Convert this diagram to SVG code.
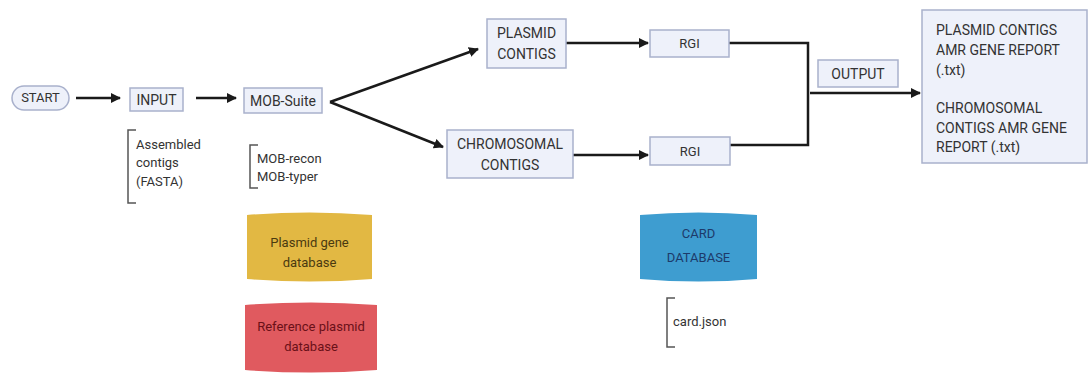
<svg xmlns="http://www.w3.org/2000/svg" width="1089" height="374" viewBox="0 0 1089 374">
<style>
.box{fill:#EEF1FA;stroke:#A9B1CC;stroke-width:1.5}
.t{font-family:Roboto,"Liberation Sans",sans-serif;font-size:13px;fill:#333}
.u{font-size:14px}
.c{text-anchor:middle}
.con{fill:none;stroke:#1a1a1a;stroke-width:2.5}
.br{fill:none;stroke:#555;stroke-width:1.5}
</style>
<defs>
<marker id="ah" viewBox="0 0 10 10" refX="9" refY="5" markerWidth="4" markerHeight="4" orient="auto" markerUnits="strokeWidth">
<path d="M0,0 L10,5 L0,10 z" fill="#1a1a1a"/>
</marker>
</defs>
<rect width="1089" height="374" fill="#fff"/>
<g id="connectors">
<line class="con" x1="76" y1="98" x2="120" y2="98" marker-end="url(#ah)"/>
<line class="con" x1="196" y1="98" x2="236" y2="98" marker-end="url(#ah)"/>
<line class="con" x1="330" y1="102" x2="478" y2="49" marker-end="url(#ah)"/>
<line class="con" x1="330" y1="102" x2="443" y2="147" marker-end="url(#ah)"/>
<line class="con" x1="566" y1="43" x2="648" y2="43" marker-end="url(#ah)"/>
<line class="con" x1="573" y1="155" x2="648" y2="155" marker-end="url(#ah)"/>
<polyline class="con" points="729,43 808,43 808,145 729,145"/>
<line class="con" x1="810" y1="93" x2="920" y2="93" marker-end="url(#ah)"/>
</g>
<g id="start">
<rect x="12" y="86" width="57" height="24" rx="12" class="box"/>
<text x="40.5" y="102" class="t c" font-size="12">START</text>
</g>
<g id="input">
<rect x="130" y="88" width="53" height="23" class="box"/>
<text x="156.5" y="104.5" class="t u c">INPUT</text>
</g>
<g id="input-note">
<path class="br" d="M136,130 H128 V203 H136"/>
<text x="136" y="149" class="t">Assembled</text>
<text x="136" y="167" class="t">contigs</text>
<text x="136" y="186" class="t">(FASTA)</text>
</g>
<g id="mobsuite">
<rect x="244" y="88" width="78" height="25" class="box"/>
<text x="283" y="105.5" class="t u c">MOB-Suite</text>
</g>
<g id="mob-note">
<path class="br" d="M258,145 H250 V188 H258"/>
<text x="257" y="163" class="t">MOB-recon</text>
<text x="257" y="181" class="t">MOB-typer</text>
</g>
<g id="plasmid-contigs">
<rect x="487" y="19" width="79" height="49" class="box"/>
<text x="526.5" y="38" class="t u c">PLASMID</text>
<text x="526.5" y="59" class="t u c">CONTIGS</text>
</g>
<g id="chromosomal-contigs">
<rect x="447" y="130" width="126" height="48" class="box"/>
<text x="510" y="149" class="t u c">CHROMOSOMAL</text>
<text x="510" y="170" class="t u c">CONTIGS</text>
</g>
<g id="rgi-top">
<rect x="650" y="30" width="79" height="27" class="box"/>
<text x="689.5" y="48" class="t c" font-size="12">RGI</text>
</g>
<g id="rgi-bottom">
<rect x="650" y="137" width="80" height="28" class="box"/>
<text x="690" y="156" class="t c" font-size="12">RGI</text>
</g>
<g id="output">
<rect x="818" y="60" width="80" height="27" class="box"/>
<text x="858" y="78.5" class="t u c">OUTPUT</text>
</g>
<g id="report">
<rect x="922" y="10" width="165" height="153" class="box"/>
<text x="936" y="35" class="t u">PLASMID CONTIGS</text>
<text x="936" y="55" class="t u">AMR GENE REPORT</text>
<text x="936" y="75" class="t u">(.txt)</text>
<text x="936" y="113" class="t u">CHROMOSOMAL</text>
<text x="936" y="133" class="t u">CONTIGS AMR GENE</text>
<text x="936" y="152" class="t u">REPORT (.txt)</text>
</g>
<g id="plasmid-gene-db">
<path d="M247,215 Q309.5,210 372,215 V279 Q309.5,284 247,279 Z" fill="#E2B843"/>
<text x="309.5" y="247" class="t c" style="fill:#4a3a10">Plasmid gene</text>
<text x="309.5" y="267" class="t c" style="fill:#4a3a10">database</text>
</g>
<g id="reference-plasmid-db">
<path d="M245,305 Q311,300 377,305 V370 Q311,375 245,370 Z" fill="#E05A5F"/>
<text x="311" y="331" class="t c" style="fill:#6a1018">Reference plasmid</text>
<text x="311" y="351" class="t c" style="fill:#6a1018">database</text>
</g>
<g id="card-db">
<path d="M640,215 Q698.5,210 757,215 V279 Q698.5,284 640,279 Z" fill="#3E9DD0"/>
<text x="698.5" y="238" class="t c" style="fill:#1d3a6a">CARD</text>
<text x="698.5" y="262" class="t c" style="fill:#1d3a6a">DATABASE</text>
</g>
<g id="card-note">
<path class="br" d="M675,298 H667 V347 H675"/>
<text x="673" y="326" class="t">card.json</text>
</g>
</svg>
